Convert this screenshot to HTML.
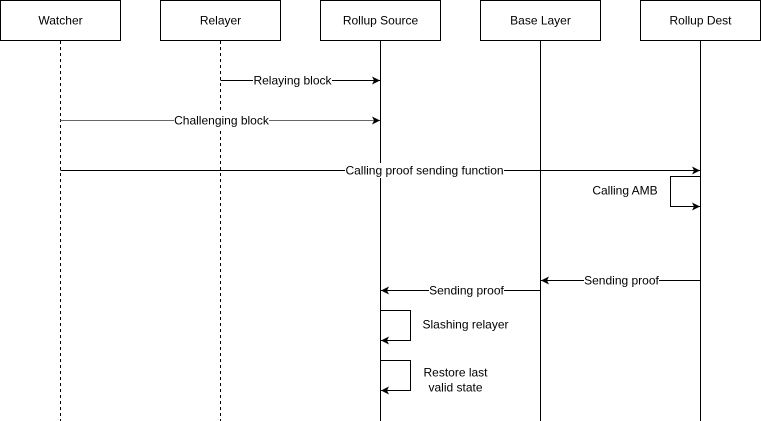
<!DOCTYPE html>
<html><head><meta charset="utf-8"><style>
html,body{margin:0;padding:0;background:#fff;}
svg{display:block;font-family:"Liberation Sans",Arial,sans-serif;font-size:12px;}
</style></head><body>
<svg width="761" height="421" viewBox="0 0 761 421" xmlns="http://www.w3.org/2000/svg">
<defs>
<marker id="a" markerWidth="10" markerHeight="10" refX="8" refY="4" orient="auto" markerUnits="userSpaceOnUse">
<path d="M0,0 L8,4 L0,8 L2,4 Z" fill="#000"/>
</marker>
</defs>
<g stroke="#000" stroke-width="1" fill="#fff">
<rect x="0.5" y="0.5" width="120" height="40"/>
<rect x="160.5" y="0.5" width="120" height="40"/>
<rect x="320.5" y="0.5" width="120" height="40"/>
<rect x="480.5" y="0.5" width="120" height="40"/>
<rect x="640.5" y="0.5" width="120" height="40"/>
</g>
<g text-anchor="middle" fill="#000">
<text x="60.5" y="24.5">Watcher</text>
<text x="220.5" y="24.5">Relayer</text>
<text x="380.5" y="24.5">Rollup Source</text>
<text x="540.5" y="24.5">Base Layer</text>
<text x="700.5" y="24.5">Rollup Dest</text>
</g>
<g stroke="#000" stroke-width="1" fill="none">
<line x1="60.5" y1="41" x2="60.5" y2="421" stroke-dasharray="3,3"/>
<line x1="220.5" y1="41" x2="220.5" y2="421" stroke-dasharray="3,3"/>
<line x1="380.5" y1="41" x2="380.5" y2="421"/>
<line x1="540.5" y1="41" x2="540.5" y2="421"/>
<line x1="700.5" y1="41" x2="700.5" y2="421"/>
<line x1="220.5" y1="80.5" x2="380" y2="80.5" marker-end="url(#a)"/>
<line x1="60.5" y1="120.5" x2="380" y2="120.5" stroke="#666" marker-end="url(#a)"/>
<line x1="60.5" y1="170.5" x2="700" y2="170.5" marker-end="url(#a)"/>
<polyline points="700.5,176.5 670.5,176.5 670.5,206.5 700,206.5" marker-end="url(#a)"/>
<line x1="700.5" y1="280.5" x2="541" y2="280.5" marker-end="url(#a)"/>
<line x1="540.5" y1="290.5" x2="381" y2="290.5" marker-end="url(#a)"/>
<polyline points="380.5,310.5 410.5,310.5 410.5,340.5 381,340.5" marker-end="url(#a)"/>
<polyline points="380.5,360.5 410.5,360.5 410.5,390.5 381,390.5" marker-end="url(#a)"/>
</g>
<g fill="#fff">
<rect x="253" y="73" width="79" height="15"/>
<rect x="174" y="113" width="95" height="15"/>
<rect x="345" y="163" width="159" height="15"/>
<rect x="584" y="273" width="75" height="15"/>
<rect x="429" y="283" width="75" height="15"/>
</g>
<g fill="#000" text-anchor="middle">
<text x="292.5" y="84.5">Relaying block</text>
<text x="221.5" y="124.5">Challenging block</text>
<text x="424.5" y="174.5">Calling proof sending function</text>
<text x="625" y="194.5">Calling AMB</text>
<text x="621.5" y="284.5">Sending proof</text>
<text x="466.5" y="294.5">Sending proof</text>
<text x="465.5" y="328.5">Slashing relayer</text>
<text x="455.5" y="376.5">Restore last</text>
<text x="455.5" y="391.5">valid state</text>
</g>
</svg>
</body></html>
